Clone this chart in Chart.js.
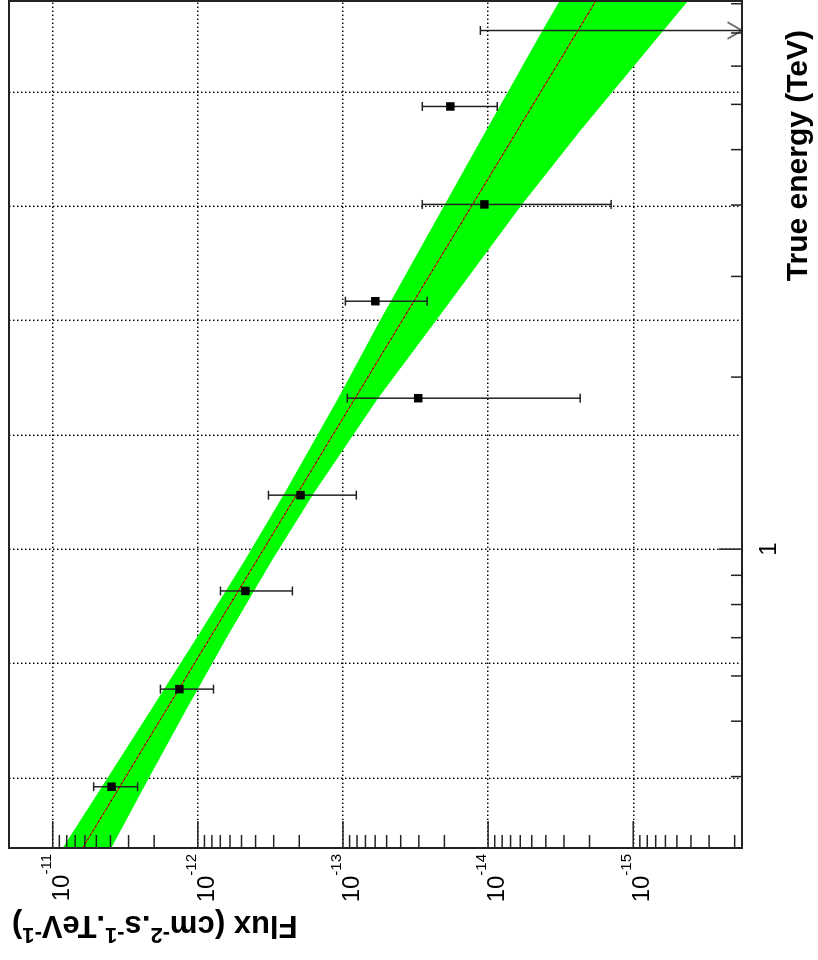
<!DOCTYPE html>
<html><head><meta charset="utf-8">
<script src="https://cdn.jsdelivr.net/npm/chart.js@4.4.1/dist/chart.umd.min.js"></script>
<style>
html,body{margin:0;padding:0;background:#fff;}
#wrap{position:relative;width:818px;height:960px;overflow:hidden;background:#fff;}
#rot{position:absolute;left:0;top:0;width:960px;height:818px;transform-origin:0 0;transform:translate(0px,960px) rotate(-90deg);}
canvas{display:block;}
</style></head>
<body><div id="wrap"><div id="rot"><canvas id="c" width="960" height="818"></canvas></div></div>
<script>
// ---- data (energies in TeV, flux in cm^-2 s^-1 TeV^-1) ----
const energies = [0.384, 0.569, 0.845, 1.243, 1.837, 2.715, 4.01, 5.95];
const flux     = [3.93e-12, 1.34e-12, 4.70e-13, 1.96e-13, 3.03e-14, 5.98e-14, 1.06e-14, 1.82e-14];
const fluxHigh = [5.22e-12, 1.81e-12, 6.98e-13, 3.26e-13, 9.33e-14, 9.62e-14, 2.84e-14, 2.84e-14];
const fluxLow  = [2.60e-12, 7.80e-13, 2.23e-13, 8.09e-14, 2.32e-15, 2.63e-14, 1.42e-15, 8.65e-15];
const ulEnergy = [8.08];
const ulFlux   = [1.13e-14];
const fitEnergy = [0.3, 1, 9.12];
const fitFlux   = [6.22e-12, 3.52e-13, 1.80e-15];
const bandEnergy = [0.300, 0.398, 0.522, 0.708, 0.957, 1.259, 1.837, 2.512, 4.009, 5.408, 8.07, 9.12];
const bandHigh   = [8.47e-12, 4.15e-12, 2.10e-12, 9.82e-13, 4.70e-13, 2.48e-13, 1.07e-13, 5.51e-14, 1.97e-14, 1.02e-14, 4.20e-15, 3.18e-15];
const bandLow    = [3.98e-12, 2.19e-12, 1.22e-12, 6.22e-13, 3.10e-13, 1.58e-13, 5.77e-14, 2.30e-14, 5.89e-15, 2.32e-15, 6.27e-16, 4.20e-16];
// ---- axes ----
const energyRange = [0.3, 9.1];
const fluxRange = [1.78e-16, 2e-11];
const energyGrid = [0.398, 0.631, 1, 1.585, 2.512, 3.981, 6.310];
const energyMinorTicks = [0.4, 0.5, 0.6, 0.7, 0.8, 0.9, 2, 3, 4, 5, 6, 7, 8, 9];
const energyMajorTicks = [1];
const energyTickLabels = ['1'];
const fluxDecades = [1e-11, 1e-12, 1e-13, 1e-14, 1e-15];
const fluxTickExponents = ['-11', '-12', '-13', '-14', '-15'];
const energyTitle = 'True energy (TeV)';
const fluxTitleParts = [['Flux (cm', 0], ['-2', 1], ['.s', 0], ['-1', 1], ['.TeV', 0], ['-1', 1], [')', 0]];

const FONT = '"Liberation Sans", Arial, Helvetica, sans-serif';
const INK = '#222';

function pts(xs, ys) { return xs.map((v, i) => ({ x: v, y: ys[i] })); }

// arrow head for upper limit
const arrow = document.createElement('canvas');
arrow.width = 20; arrow.height = 32;
{
  const ac = arrow.getContext('2d');
  ac.strokeStyle = INK; ac.lineWidth = 1.3;
  ac.beginPath(); ac.moveTo(1.7, 1.5); ac.lineTo(10, 16); ac.lineTo(18.3, 1.5); ac.stroke();
}

const datasets = [];
datasets.push({ label: 'points', data: pts(energies, flux), showLine: false, pointStyle: 'rect',
  pointRadius: 6, pointBackgroundColor: '#000', pointBorderColor: '#000', pointBorderWidth: 0, order: 0 });
energies.forEach((e, i) => {
  datasets.push({ label: 'err' + i, data: [{ x: e, y: fluxLow[i] }, { x: e, y: fluxHigh[i] }],
    showLine: true, borderColor: INK, borderWidth: 1.5, pointStyle: 'line', pointRadius: 4.5,
    pointBorderColor: INK, pointBorderWidth: 1.5, order: 1 });
});
datasets.push({ label: 'ul', data: [{ x: ulEnergy[0], y: ulFlux[0] }, { x: ulEnergy[0], y: fluxRange[0] }],
  showLine: true, borderColor: INK, borderWidth: 1.5, pointStyle: ['line', arrow], pointRadius: [4.5, 10],
  pointBorderColor: INK, pointBorderWidth: 1.5, clip: false, order: 1 });
datasets.push({ label: 'fitdots', data: pts(fitEnergy, fitFlux), showLine: true, borderColor: '#000',
  borderWidth: 1.2, borderDash: [1, 4], pointRadius: 0, order: 2 });
datasets.push({ label: 'fit', data: pts(fitEnergy, fitFlux), showLine: true, borderColor: '#ff0000',
  borderWidth: 1, pointRadius: 0, order: 3 });
datasets.push({ label: 'bandHigh', data: pts(bandEnergy, bandHigh), showLine: true, borderColor: '#00ff00',
  borderWidth: 1, backgroundColor: '#00ff00', fill: '+1', pointRadius: 0, order: 4 });
datasets.push({ label: 'bandLow', data: pts(bandEnergy, bandLow), showLine: true, borderColor: '#00ff00',
  borderWidth: 1, fill: false, pointRadius: 0, order: 5 });

function line(ctx, x1, y1, x2, y2) { ctx.beginPath(); ctx.moveTo(x1, y1); ctx.lineTo(x2, y2); ctx.stroke(); }

const rootAxes = {
  id: 'rootAxes',
  afterDraw(chart) {
    const { ctx, chartArea: a, scales: { x, y } } = chart;
    ctx.save();
    ctx.strokeStyle = INK; ctx.lineWidth = 1.5;
    energyMinorTicks.forEach(v => { const p = x.getPixelForValue(v); line(ctx, p, a.bottom, p, a.bottom - 11); });
    energyMajorTicks.forEach(v => { const p = x.getPixelForValue(v); line(ctx, p, a.bottom, p, a.bottom - 23); });
    fluxDecades.forEach(v => { const p = y.getPixelForValue(v); line(ctx, a.left, p, a.left + 27, p); });
    for (let e = -16; e <= -11; e++) {
      for (let m = 2; m <= 9; m++) {
        const v = m * Math.pow(10, e);
        if (v <= fluxRange[0] || v >= fluxRange[1]) continue;
        const p = y.getPixelForValue(v);
        line(ctx, a.left, p, a.left + 13, p);
      }
    }
    ctx.lineWidth = 2; ctx.strokeStyle = '#222';
    ctx.strokeRect(a.left, a.top, a.right - a.left, a.bottom - a.top);

    ctx.fillStyle = '#000';
    ctx.textBaseline = 'alphabetic';
    ctx.font = '24px ' + FONT; ctx.textAlign = 'center';
    energyMajorTicks.forEach((v, i) => ctx.fillText(energyTickLabels[i], x.getPixelForValue(v), a.bottom + 34));
    fluxDecades.forEach((v, i) => {
      const p = y.getPixelForValue(v);
      ctx.font = '15px ' + FONT;
      const w2 = ctx.measureText(fluxTickExponents[i]).width;
      ctx.textAlign = 'right';
      ctx.fillText(fluxTickExponents[i], a.left - 6, p - 2);
      ctx.font = '24px ' + FONT;
      ctx.fillText('10', a.left - 6 - w2, p + 16);
    });
    ctx.font = 'bold 30px ' + FONT; ctx.textAlign = 'right';
    ctx.fillText(energyTitle, 930, 807);
    ctx.save();
    ctx.translate(44, 12);
    ctx.rotate(-Math.PI / 2);
    const big = 'bold 31px ' + FONT, small = 'bold 22px ' + FONT;
    let total = 0;
    fluxTitleParts.forEach(([t, s]) => { ctx.font = s ? small : big; total += ctx.measureText(t).width; });
    let cx = -total;
    ctx.textAlign = 'left';
    fluxTitleParts.forEach(([t, s]) => {
      ctx.font = s ? small : big;
      ctx.fillText(t, cx, s ? -12 : 0);
      cx += ctx.measureText(t).width;
    });
    ctx.restore();
    ctx.restore();
  }
};

new Chart(document.getElementById('c'), {
  type: 'line',
  data: { datasets },
  options: {
    responsive: false, maintainAspectRatio: false, animation: false, devicePixelRatio: 1,
    layout: { autoPadding: false, padding: { top: 9, right: 1, left: 0, bottom: 0 } },
    plugins: { legend: { display: false }, tooltip: { enabled: false } },
    elements: { line: { tension: 0 } },
    scales: {
      x: {
        type: 'logarithmic', position: 'bottom', min: energyRange[0], max: energyRange[1],
        afterBuildTicks: s => { s.ticks = energyGrid.map(v => ({ value: v })); },
        afterFit: s => { s.height = 76; },
        ticks: { display: false, autoSkip: false },
        grid: { color: '#000', lineWidth: 1.4, drawTicks: false },
        border: { display: false, dash: [1.4, 2.6] }
      },
      y: {
        type: 'logarithmic', position: 'left', min: fluxRange[0], max: fluxRange[1],
        afterBuildTicks: s => { s.ticks = fluxDecades.map(v => ({ value: v })); },
        afterFit: s => { s.width = 112; },
        ticks: { display: false, autoSkip: false },
        grid: { color: '#000', lineWidth: 1.4, drawTicks: false },
        border: { display: false, dash: [1.4, 2.6] }
      }
    }
  },
  plugins: [rootAxes]
});
</script>
</body></html>
